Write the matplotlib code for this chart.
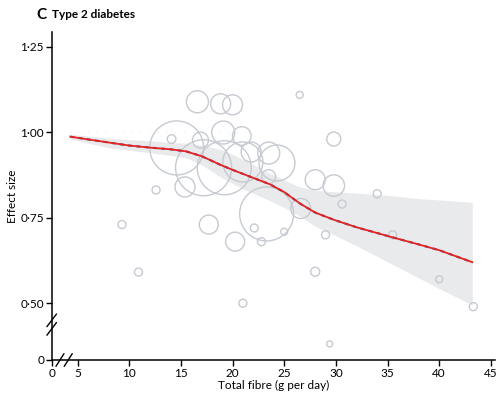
import matplotlib
matplotlib.use("Agg")
import matplotlib.pyplot as plt
import numpy as np

plt.rcParams['font.family'] = ['Lato', 'DejaVu Sans']

# study points: fibre intake, effect size, relative weight (circle radius)
fibre = [9.3, 10.9, 12.6, 14.1, 14.6, 17.2, 15.4, 16.9, 16.6, 18.85, 20.0, 19.1, 20.9,
         19.2, 21.0, 21.8, 23.5, 24.3, 23.5, 23.3, 17.7, 20.25, 21.0, 22.1, 22.8, 25.0,
         26.6, 26.5, 29.8, 28.0, 29.8, 34.0, 30.6, 29.0, 28.0, 29.4, 35.5, 40.0, 43.3]
effect = [0.730, 0.591, 0.831, 0.980, 0.954, 0.896, 0.840, 0.977, 1.089, 1.083, 1.080,
          0.999, 0.989, 0.896, 0.913, 0.942, 0.939, 0.910, 0.870, 0.761, 0.730, 0.680,
          0.500, 0.720, 0.680, 0.709, 0.777, 1.109, 0.980, 0.861, 0.844, 0.820, 0.790,
          0.700, 0.592, 0.381, 0.700, 0.570, 0.490]
weight = [4, 4, 4, 4.3, 27, 28, 10, 8, 11, 10, 10, 11.5, 9.3, 27, 20, 10, 11, 18, 7, 27,
          9.5, 9.5, 4, 4, 4, 3.5, 10, 3.5, 7, 10, 10.7, 4, 4, 4, 4.5, 3, 4, 3.5, 4]

# dose-response curve and confidence band
fit_x = [4.3, 6, 8, 10, 12, 14, 15.5, 17, 18.8, 20, 21.7, 23.6, 25, 26.5, 28, 29.8, 32,
         35.2, 38, 40, 43.2]
fit_y = [0.987, 0.979, 0.970, 0.961, 0.955, 0.950, 0.944, 0.930, 0.905, 0.890, 0.870,
         0.848, 0.825, 0.792, 0.765, 0.744, 0.722, 0.695, 0.672, 0.655, 0.620]
ci_hi = [0.994, 0.989, 0.983, 0.978, 0.975, 0.970, 0.968, 0.963, 0.950, 0.935, 0.910,
         0.880, 0.860, 0.840, 0.830, 0.826, 0.822, 0.815, 0.806, 0.802, 0.795]
ci_lo = [0.980, 0.968, 0.955, 0.947, 0.940, 0.932, 0.925, 0.905, 0.870, 0.850, 0.825,
         0.800, 0.780, 0.755, 0.725, 0.700, 0.668, 0.618, 0.574, 0.543, 0.495]

xticks = [2.5, 5, 10, 15, 20, 25, 30, 35, 40, 45]
xticklabels = ['0', '5', '10', '15', '20', '25', '30', '35', '40', '45']
yticks = [0.334, 0.50, 0.75, 1.00, 1.25]
yticklabels = ['0', '0·50', '0·75', '1·00', '1·25']

fig = plt.figure(figsize=(5, 3.94), dpi=100)
ax = fig.add_axes([0.1034, 0.0863, 0.8866, 0.8325])

ax.fill_between(fit_x, ci_lo, ci_hi, color='#e9eaec', lw=0, zorder=1)
ax.plot([4.3, 22], [1.0, 1.0], color='#e2e4e7', lw=0.7, ls=(0, (1, 8)), zorder=0)
ax.scatter(fibre, effect, s=(1.44 * np.array(weight)) ** 2, facecolors='none',
           edgecolors='#c6cad1', linewidths=1.0, zorder=2)
ax.plot(fit_x, fit_y, color='#3553a4', lw=1.5, ls=(0, (2, 2)), zorder=3)
ax.plot(fit_x, fit_y, color='#e8231f', lw=1.3, zorder=4)

ax.set_xlim(2.5, 45.4)
ax.set_ylim(0.334, 1.293)
for s in ['top', 'right']:
    ax.spines[s].set_visible(False)
for s in ['left', 'bottom']:
    ax.spines[s].set_linewidth(1.1)
ax.set_xticks(xticks)
ax.set_xticklabels(xticklabels)
ax.set_yticks(yticks)
ax.set_yticklabels(yticklabels)
ax.tick_params(direction='out', length=4, width=1, labelsize=8.5, pad=1.5)

# axis break marks
dx, dy = 0.45, 0.018
for y0 in [0.425, 0.450]:
    ax.plot([2.5 - dx, 2.5 + dx], [y0 - dy, y0 + dy], color='black', lw=1, clip_on=False, zorder=5)
for x0 in [3.3, 4.1]:
    ax.plot([x0 - 0.38, x0 + 0.38], [0.334 - 0.018, 0.334 + 0.018], color='black', lw=1,
            clip_on=False, zorder=5)

ax.set_xlabel('Total fibre (g per day)', fontsize=8.5, labelpad=1)
ax.set_ylabel('Effect size', fontsize=8.5, labelpad=2)

fig.text(0.072, 0.962, 'C', fontsize=11, fontweight='bold', va='center')
fig.text(0.104, 0.962, 'Type 2 diabetes', fontsize=8.5, fontweight='bold', va='center')

fig.savefig('out.png', dpi=100)
